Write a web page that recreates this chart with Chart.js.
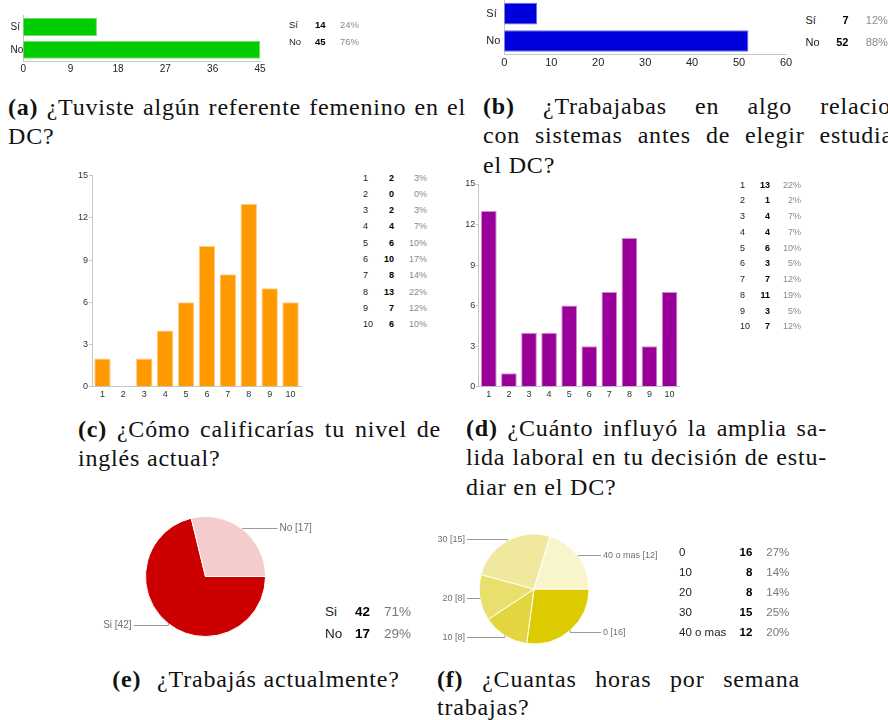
<!DOCTYPE html>
<html lang="es">
<head>
<meta charset="utf-8">
<title>Encuesta DC</title>
<script src="https://cdn.jsdelivr.net/npm/chart.js@4.4.1/dist/chart.umd.min.js"></script>
<style>
  html, body { margin: 0; padding: 0; background: #fff; }
  #page { position: relative; width: 888px; height: 720px; overflow: hidden; background: #fff; }
  #page canvas { position: absolute; }
  .cell { position: absolute; font-family: "Liberation Sans", Arial, sans-serif; white-space: nowrap; }
  .cap { position: absolute; font-family: "Liberation Serif", "Times New Roman", serif; font-size: 24px;
         line-height: 29.4px; color: #111; white-space: nowrap; letter-spacing: 0.8px; }
  .cap b { margin-right: 9px; }
  .cap[data-w] b { margin-right: 0; }
</style>
</head>
<body>
<div id="page">
  <div class="cap" data-w="458" style="left:8px;top:93px"><b>(a)</b> ¿Tuviste algún referente femenino en el</div>
  <div class="cap" style="left:8px;top:122.4px">DC?</div>

  <div class="cap" data-w="458" style="left:483px;top:92px"><b>(b)</b> ¿Trabajabas en algo relacionado</div>
  <div class="cap" data-w="458" style="left:483px;top:121.4px">con sistemas antes de elegir estudiar en</div>
  <div class="cap" style="left:483px;top:150.8px">el DC?</div>

  <div class="cap" data-w="363" style="left:78px;top:414.7px"><b>(c)</b> ¿Cómo calificarías tu nivel de</div>
  <div class="cap" style="left:78px;top:444.1px">inglés actual?</div>

  <div class="cap" data-w="361" style="left:466px;top:414px"><b>(d)</b> ¿Cuánto influyó la amplia sa-</div>
  <div class="cap" data-w="361" style="left:466px;top:443.4px">lida laboral en tu decisión de estu-</div>
  <div class="cap" style="left:466px;top:472.8px">diar en el DC?</div>

  <div class="cap" style="left:72px;top:665px;width:368px;text-align:center"><b>(e)</b> ¿Trabajás actualmente?</div>

  <div class="cap" data-w="363" style="left:437px;top:665px"><b>(f)</b> ¿Cuantas horas por semana</div>
  <div class="cap" style="left:437px;top:693.4px">trabajas?</div>
</div>
<script>
// ---- survey answers ----
const yesNoLabels = ['Sí', 'No'];
const femaleRoleModelCounts = [14, 45];
const priorSystemsWorkCounts = [7, 52];

const scaleLabels = ['1', '2', '3', '4', '5', '6', '7', '8', '9', '10'];
const englishLevelCounts = [2, 0, 2, 4, 6, 10, 8, 13, 7, 6];
const jobMarketInfluenceCounts = [13, 1, 4, 4, 6, 3, 7, 11, 3, 7];

const workingLabels = ['Si', 'No'];
const workingCounts = [42, 17];

const hoursLabels = ['0', '10', '20', '30', '40 o mas'];
const hoursCounts = [16, 8, 8, 15, 12];

// ---- axis ticks ----
const ticksRoleModel = [0, 9, 18, 27, 36, 45];
const ticksPriorWork = [0, 10, 20, 30, 40, 50, 60];
const ticksScale = [0, 3, 6, 9, 12, 15];

const SANS = '"Liberation Sans", Arial, sans-serif';
const AXIS_GRAY = '#c6c6c6';
const page = document.getElementById('page');

Chart.defaults.font.family = SANS;

function makeCanvas(left, top, w, h) {
  const c = document.createElement('canvas');
  c.width = w; c.height = h;
  c.style.left = left + 'px'; c.style.top = top + 'px';
  c.style.width = w + 'px'; c.style.height = h + 'px';
  page.appendChild(c);
  return c;
}

// fixes a scale's thickness and drops the extra label overhang padding
function fixSize(prop, v) {
  return s => {
    s[prop] = v;
    s.paddingTop = s.paddingBottom = s.paddingLeft = s.paddingRight = 0;
  };
}

function tickList(values) {
  return s => { s.ticks = values.map(v => ({ value: v })); };
}

function barChart(canvas, p) {
  const valueAxis = {
    type: 'linear',
    min: p.ticks[0],
    max: p.ticks[p.ticks.length - 1],
    afterBuildTicks: tickList(p.ticks),
    ticks: { autoSkip: false, maxRotation: 0, padding: p.valuePad, color: p.tickColor, font: { size: p.fontSize } },
    grid: p.valueTickMarks
      ? { display: true, drawOnChartArea: false, drawTicks: true, tickLength: 3, color: AXIS_GRAY }
      : { display: false, drawTicks: false },
    border: { display: true, color: AXIS_GRAY, width: 1 }
  };
  const catAxis = {
    type: 'category',
    ticks: { autoSkip: false, maxRotation: 0, padding: p.catPad, color: p.tickColor, font: { size: p.fontSize },
             crossAlign: p.horizontal ? 'far' : 'near' },
    grid: { display: false, drawTicks: false },
    border: { display: true, color: AXIS_GRAY, width: 1 }
  };
  let scales;
  if (p.horizontal) {
    valueAxis.afterFit = fixSize('height', p.bottomAxis);
    catAxis.afterFit = fixSize('width', p.leftAxis);
    scales = { x: valueAxis, y: catAxis };
  } else {
    catAxis.afterFit = fixSize('height', p.bottomAxis);
    valueAxis.afterFit = fixSize('width', p.leftAxis);
    scales = { x: catAxis, y: valueAxis };
  }
  return new Chart(canvas, {
    type: 'bar',
    data: {
      labels: p.labels,
      datasets: [{
        data: p.values,
        backgroundColor: p.fill,
        borderColor: p.edge,
        borderWidth: 1,
        barPercentage: p.barPct,
        categoryPercentage: 1
      }]
    },
    options: {
      indexAxis: p.horizontal ? 'y' : 'x',
      responsive: false,
      animation: false,
      devicePixelRatio: 1,
      events: [],
      layout: { padding: p.padding },
      plugins: { legend: { display: false }, tooltip: { enabled: false } },
      scales
    }
  });
}

// callout labels "name [count]" joined to each slice by a thin elbow line
const sliceCallouts = {
  id: 'sliceCallouts',
  afterDatasetsDraw(chart, args, opts) {
    const { ctx } = chart;
    const meta = chart.getDatasetMeta(0);
    const labels = chart.data.labels;
    const values = chart.data.datasets[0].data;
    ctx.save();
    ctx.font = opts.fontSize + 'px ' + SANS;
    ctx.textBaseline = 'middle';
    ctx.strokeStyle = opts.lineColor;
    ctx.fillStyle = opts.textColor;
    ctx.lineWidth = 1;
    meta.data.forEach((arc, i) => {
      const { x, y, startAngle, endAngle, outerRadius } =
        arc.getProps(['x', 'y', 'startAngle', 'endAngle', 'outerRadius'], true);
      const mid = (startAngle + endAngle) / 2;
      const cos = Math.cos(mid), sin = Math.sin(mid);
      const px = x + cos * outerRadius;
      const py = y + sin * outerRadius;
      const ly = Math.round(y + sin * (outerRadius + opts.lift)) + 0.5;
      const right = cos >= 0;
      const ex = x + (right ? 1 : -1) * (outerRadius + opts.reach);
      ctx.beginPath();
      ctx.moveTo(px, py);
      ctx.lineTo(px, ly);
      ctx.lineTo(ex, ly);
      ctx.stroke();
      ctx.textAlign = right ? 'left' : 'right';
      ctx.fillText(labels[i] + ' [' + values[i] + ']', ex + (right ? 2 : -2), ly);
    });
    ctx.restore();
  }
};

function pieChart(canvas, p) {
  return new Chart(canvas, {
    type: 'pie',
    data: {
      labels: p.labels,
      datasets: [{
        data: p.values,
        backgroundColor: p.colors,
        borderColor: '#ffffff',
        borderWidth: 1,
        radius: p.radius
      }]
    },
    plugins: [sliceCallouts],
    options: {
      responsive: false,
      animation: false,
      devicePixelRatio: 1,
      events: [],
      rotation: 90,
      layout: { padding: 0 },
      plugins: {
        legend: { display: false },
        tooltip: { enabled: false },
        sliceCallouts: { fontSize: p.labelSize, lineColor: '#9a9a9a', textColor: '#707070', lift: 2, reach: 12 }
      }
    }
  });
}

// summary table: answer, count (bold) and rounded share of the total
function addCell(text, x, cy, size, align, color, weight) {
  const d = document.createElement('div');
  d.className = 'cell';
  d.textContent = text;
  const lh = Math.round(size * 1.4);
  d.style.fontSize = size + 'px';
  d.style.lineHeight = lh + 'px';
  d.style.top = (cy - lh / 2) + 'px';
  d.style.color = color;
  d.style.fontWeight = weight;
  if (align === 'left') {
    d.style.left = x + 'px';
  } else {
    d.style.left = (x - 80) + 'px';
    d.style.width = '80px';
    d.style.textAlign = 'right';
  }
  page.appendChild(d);
}

function summaryTable(p) {
  const total = p.counts.reduce((a, b) => a + b, 0);
  p.labels.forEach((lab, i) => {
    const cy = p.y0 + i * p.step;
    addCell(lab, p.xLabel, cy, p.size, 'left', '#222', 'normal');
    addCell(String(p.counts[i]), p.xCount, cy, p.size, 'right', '#000', 'bold');
    addCell(Math.round(p.counts[i] / total * 100) + '%', p.xPct, cy, p.size, 'right', p.pctColor, 'normal');
  });
}

// (a) female role model
barChart(makeCanvas(0, 0, 280, 80), {
  horizontal: true, labels: yesNoLabels, values: femaleRoleModelCounts, ticks: ticksRoleModel,
  fill: '#00cc00', edge: '#6be06b', barPct: 0.78,
  padding: { top: 15.6, right: 20, bottom: 0, left: 10.5 },
  leftAxis: 12.8, bottomAxis: 18.8, fontSize: 10, tickColor: '#222', valuePad: 2, catPad: 0
});
summaryTable({ labels: yesNoLabels, counts: femaleRoleModelCounts, y0: 24, step: 17.7, size: 9.5,
               xLabel: 289, xCount: 325.5, xPct: 359, pctColor: '#8a8a8a' });

// (b) prior work in systems
barChart(makeCanvas(480, 0, 320, 76), {
  horizontal: true, labels: yesNoLabels, values: priorSystemsWorkCounts, ticks: ticksPriorWork,
  fill: '#0000dd', edge: '#6b6bec', barPct: 0.79,
  padding: { top: 0, right: 14, bottom: 0, left: 6.3 },
  leftAxis: 18, bottomAxis: 21.4, fontSize: 11, tickColor: '#222', valuePad: 2, catPad: 0
});
summaryTable({ labels: yesNoLabels, counts: priorSystemsWorkCounts, y0: 20.5, step: 21.7, size: 11,
               xLabel: 805.5, xCount: 848.5, xPct: 887.8, pctColor: '#8a8a8a' });

// (c) English level
barChart(makeCanvas(60, 165, 250, 240), {
  horizontal: false, labels: scaleLabels, values: englishLevelCounts, ticks: ticksScale,
  fill: '#ff9900', edge: '#ffcc80', barPct: 0.785, valueTickMarks: true,
  padding: { top: 10.7, right: 9, bottom: 0, left: 0 },
  leftAxis: 32, bottomAxis: 18.3, fontSize: 9, tickColor: '#333', valuePad: 1, catPad: 2.5
});
summaryTable({ labels: scaleLabels, counts: englishLevelCounts, y0: 178, step: 16.3, size: 9,
               xLabel: 363, xCount: 394, xPct: 427, pctColor: '#8a8a8a' });

// (d) job market influence
barChart(makeCanvas(455, 175, 240, 230), {
  horizontal: false, labels: scaleLabels, values: jobMarketInfluenceCounts, ticks: ticksScale,
  fill: '#990099', edge: '#d08ad0', barPct: 0.78, valueTickMarks: true,
  padding: { top: 9, right: 15.4, bottom: 0, left: 0 },
  leftAxis: 23.8, bottomAxis: 18.3, fontSize: 9, tickColor: '#333', valuePad: 0.5, catPad: 2.5
});
summaryTable({ labels: scaleLabels, counts: jobMarketInfluenceCounts, y0: 185, step: 15.75, size: 9,
               xLabel: 740, xCount: 770, xPct: 801, pctColor: '#8a8a8a' });

// (e) currently working
pieChart(makeCanvas(95, 505, 221, 143), {
  labels: workingLabels, values: workingCounts, colors: ['#cc0000', '#f4cccc'], radius: 60, labelSize: 10
});
summaryTable({ labels: workingLabels, counts: workingCounts, y0: 611.7, step: 21.6, size: 13.5,
               xLabel: 325, xCount: 370, xPct: 411, pctColor: '#777' });

// (f) weekly hours
pieChart(makeCanvas(400, 525, 268, 128), {
  labels: hoursLabels, values: hoursCounts,
  colors: ['#dccb00', '#e3d540', '#e9df6c', '#f0e89c', '#f8f4cc'], radius: 55, labelSize: 9
});
summaryTable({ labels: hoursLabels, counts: hoursCounts, y0: 552.3, step: 20, size: 11.5,
               xLabel: 679, xCount: 752.3, xPct: 789.3, pctColor: '#777' });

// justify caption lines to their column width
function justifyCaptions() {
  document.querySelectorAll('.cap[data-w]').forEach(el => {
    el.style.wordSpacing = '0px';
    const natural = el.getBoundingClientRect().width;
    const gaps = (el.textContent.match(/ /g) || []).length;
    if (gaps) el.style.wordSpacing = ((parseFloat(el.dataset.w) - natural) / gaps) + 'px';
  });
}
justifyCaptions();
if (document.fonts && document.fonts.ready) document.fonts.ready.then(justifyCaptions);
</script>
</body>
</html>
